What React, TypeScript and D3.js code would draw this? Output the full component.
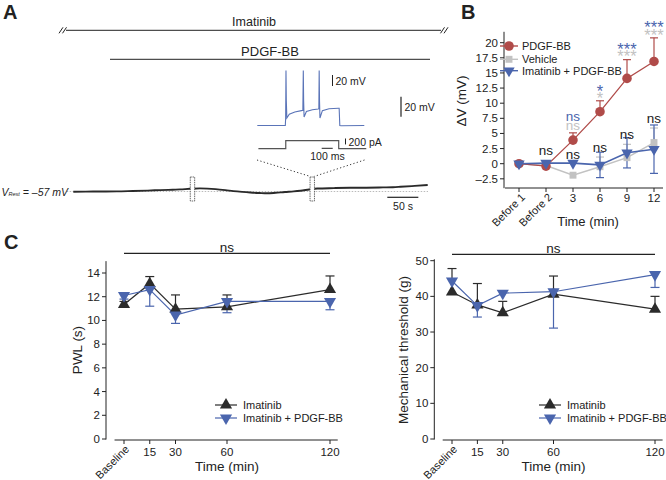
import React from "react";
import * as d3 from "d3";

const FONT = "Arial, 'Liberation Sans', Helvetica, sans-serif";
const INK = "#222";
const RED = "#b04b49";
const GREY = "#c2c2c2";
const BLUE = "#4a65ad";
const DARK = "#2b2b2b";

// ---------- Panel A: whole-cell recording ----------
const restTimeS = [0, 20, 43, 70, 96, 120, 140, 160, 172, 188, 204, 216, 229, 245, 258, 272, 285, 300, 312, 326, 341, 355, 366, 380, 393, 420, 446, 472, 499, 515, 527, 550, 571];
const restMv = [-57.2, -57.1, -57.0, -56.9, -56.5, -56.1, -55.6, -55.2, -54.9, -54.3, -53.9, -54.1, -54.6, -55.6, -56.6, -57.4, -58.0, -58.5, -58.8, -58.3, -57.5, -56.9, -56.2, -55.0, -54.0, -53.6, -53.3, -53.2, -52.9, -52.7, -52.3, -51.4, -50.5];
const restSnippetS = [192, 385];
const restingLabelMv = -57;

const insetTimeMs = [0, 254, 257, 260, 263, 268, 290, 340, 400, 413, 417, 420, 424, 445, 500, 552, 558, 561, 564, 568, 590, 650, 735, 742, 748, 760, 970];
const insetMv = [-65, -65, -52, 35, -20, -51.4, -44.5, -40.5, -38, -37.5, 35, -20, -49.5, -39.5, -36.5, -35, -34.5, 35, -20, -51.4, -38, -34.5, -33.5, -33.5, -65, -65.5, -65];
const stimTimeMs = [10, 258, 258, 738, 738, 988];
const stimPa = [0, 0, 270, 270, 0, 0];

// ---------- Panel B ----------
const bCategories = ["Before 1", "Before 2", "3", "6", "9", "12"];
const bPdgf = [0, -0.4, 3.9, 8.6, 14.1, 16.9];
const bPdgfErr = [0, 0, 1.2, 1.8, 3.1, 3.9];
const bVehicle = [0, -0.3, -1.9, -0.5, 1.0, 3.5];
const bVehicleErr = [0, 0, 0, 1.6, 2.2, 2.4];
const bImatPdgf = [0, 0.1, 0.1, -0.2, 1.8, 2.4];
const bImatPdgfErr = [0, 0, 0, 2.1, 2.5, 4.0];
const bYTicks = [-2.5, 0, 2.5, 5, 7.5, 10, 12.5, 15, 17.5, 20];
const bBlackNs = [null, 2.0, 1.45, 2.55, 4.75, 7.35];
const bBlueMark = ["", "", "ns", "*", "***", "***"];
const bBlueLevel = [0, 0, 7.65, 12.6, 19.6, 23.1];
const bGreyMark = ["", "", "ns", "*", "***", "***"];
const bGreyLevel = [0, 0, 6.1, 11.35, 18.3, 21.9];

// ---------- Panel C ----------
const cTimes = [0, 15, 30, 60, 120];
const cTickLabels = ["Baseline", "15", "30", "60", "120"];
const pwlImatinib = [11.35, 13.1, 10.95, 11.15, 12.6];
const pwlImatinibErr = [0.25, 0.6, 1.2, 1.0, 1.15];
const pwlImatPdgf = [12.1, 12.6, 10.45, 11.6, 11.6];
const pwlImatPdgfErr = [0.3, 1.4, 0.7, 0.95, 0.7];
const pwlYTicks = [0, 2, 4, 6, 8, 10, 12, 14];
const mechImatinib = [41.2, 37.6, 35.4, 40.6, 36.4];
const mechImatinibErr = [6.6, 6.0, 3.2, 5.1, 3.6];
const mechImatPdgf = [44.3, 37.4, 40.9, 41.3, 46.1];
const mechImatPdgfErr = [0, 3.2, 0, 10.2, 3.6];
const mechYTicks = [0, 10, 20, 30, 40, 50];

const circlePath = d3.symbol().type(d3.symbolCircle).size(72)() as string;
const squarePath = d3.symbol().type(d3.symbolSquare).size(48)() as string;
const triB = d3.symbol().type(d3.symbolTriangle).size(56)() as string;
const triC = d3.symbol().type(d3.symbolTriangle).size(64)() as string;

function Marker({ x, y, path, fill, down = false }: any) {
  return <path d={path} transform={`translate(${x},${y})${down ? " rotate(180)" : ""}`} fill={fill} />;
}

function ErrBar({ x, y0, y1, color, cap = 8, w = 1.2 }: any) {
  return (
    <g stroke={color} strokeWidth={w}>
      <line x1={x} x2={x} y1={y0} y2={y1} />
      <line x1={x - cap / 2} x2={x + cap / 2} y1={y1} y2={y1} />
    </g>
  );
}

function PanelA() {
  const xRest = d3.scaleLinear().domain([0, 571]).range([73.3, 427.7]);
  const yRest = d3.scaleLinear().domain([-57, -37]).range([191.5, 171.5]);
  const restLine = d3
    .line<number>()
    .x((_, i) => xRest(restTimeS[i]))
    .y((d) => yRest(d))
    .curve(d3.curveMonotoneX);
  const xIn = d3.scaleLinear().domain([0, 970]).range([257.3, 364.3]);
  const yIn = d3.scaleLinear().domain([-65, 35]).range([125.5, 70.5]);
  const yStim = d3.scaleLinear().domain([0, 270]).range([148.7, 140.7]);
  const inLine = d3.line<number>().x((_, i) => xIn(insetTimeMs[i])).y((d) => yIn(d));
  const stLine = d3.line<number>().x((_, i) => xIn(stimTimeMs[i])).y((d) => yStim(d));

  const mv20Main = yRest(-57) - yRest(-37);
  const mv20In = yIn(0) - yIn(20);
  const pa200 = yStim(0) - yStim(200);
  const ms100 = xIn(100) - xIn(0);
  const s50 = xRest(50) - xRest(0);

  const slash = (x: number, y: number) => (
    <g stroke={INK} strokeWidth={1}>
      <line x1={x} y1={y + 3} x2={x + 4} y2={y - 3} />
      <line x1={x + 3.5} y1={y + 3} x2={x + 7.5} y2={y - 3} />
    </g>
  );

  return (
    <g fontFamily={FONT} fill={INK}>
      <text x={3} y={19} fontSize={20} fontWeight="bold">A</text>
      <text x={254} y={21.5} fontSize={12.5} textAnchor="middle" dominantBaseline="central">Imatinib</text>
      <line x1={66} x2={441} y1={30.3} y2={30.3} stroke={INK} strokeWidth={1} />
      {slash(59, 30.3)}
      {slash(440.5, 30.3)}
      <text x={270} y={51.5} fontSize={13} textAnchor="middle" dominantBaseline="central">PDGF-BB</text>
      <line x1={110} x2={430} y1={59.3} y2={59.3} stroke={INK} strokeWidth={1} />

      {/* inset */}
      <path d={inLine(insetMv) as string} fill="none" stroke="#5a74b8" strokeWidth={1.1} />
      <path d={stLine(stimPa) as string} fill="none" stroke="#555" strokeWidth={1.2} />
      <line x1={332.5} x2={332.5} y1={75} y2={75 + mv20In} stroke={INK} strokeWidth={1} />
      <text x={335.5} y={80.5} fontSize={10.5} dominantBaseline="central">20 mV</text>
      <line x1={345.5} x2={345.5} y1={138.5} y2={138.5 + pa200} stroke={INK} strokeWidth={1} />
      <text x={348.5} y={141.5} fontSize={10.5} dominantBaseline="central">200 pA</text>
      <line x1={321.7} x2={321.7 + ms100} y1={148.3} y2={148.3} stroke={INK} strokeWidth={1} />
      <text x={327.5} y={156} fontSize={10.5} textAnchor="middle" dominantBaseline="central">100 ms</text>
      <line x1={401} x2={401} y1={96.7} y2={96.7 + mv20Main} stroke={INK} strokeWidth={1.2} />
      <text x={404.5} y={107} fontSize={10.5} dominantBaseline="central">20 mV</text>

      {/* zoom dotted lines */}
      <g stroke="#333" strokeWidth={1} strokeDasharray="1.2,2.3">
        <line x1={257} y1={160} x2={310.5} y2={176.5} />
        <line x1={364.5} y1={160} x2={314} y2={176.5} />
      </g>

      {/* main trace */}
      <line x1={66.7} x2={428} y1={yRest(restingLabelMv)} y2={yRest(restingLabelMv)} stroke="#aaa" strokeWidth={0.8} strokeDasharray="1.5,1.5" />
      <path d={restLine(restMv) as string} fill="none" stroke="#2a2a2a" strokeWidth={1.9} />
      {restSnippetS.map((t) => (
        <rect key={t} x={xRest(t) - 2.2} y={177} width={4.4} height={24} fill="#fff" stroke="#444" strokeWidth={0.8} strokeDasharray="1.5,0.8" />
      ))}
      <text x={1.5} y={191.5} fontSize={10.5} fontStyle="italic" dominantBaseline="central">
        V<tspan fontSize={5.5} dy={2}>Rest</tspan>
        <tspan fontSize={10.5} dy={-2}> = –57 mV</tspan>
      </text>
      <line x1={387.3} x2={387.3 + s50} y1={197.3} y2={197.3} stroke={INK} strokeWidth={1.2} />
      <text x={403} y={206} fontSize={10.5} textAnchor="middle" dominantBaseline="central">50 s</text>
    </g>
  );
}

function PanelB() {
  const x = d3.scalePoint<string>().domain(bCategories).range([519, 654]);
  const y = d3.scaleLinear().domain([0, 20]).range([163.7, 42.7]);
  const yTop = y(21.8);
  const yBot = y(-4.05);
  const axisY = 188;
  const mkLine = (vals: number[]) =>
    d3.line<number>().x((_, i) => x(bCategories[i]) as number).y((d) => y(d))(vals) as string;
  const fs = 13.5;
  const sfs = 16.5;
  const legend = [
    { label: "PDGF-BB", color: RED, path: circlePath, down: false, ly: 46 },
    { label: "Vehicle", color: GREY, path: squarePath, down: false, ly: 59.3 },
    { label: "Imatinib + PDGF-BB", color: BLUE, path: triB, down: true, ly: 70.7 },
  ];
  const markY = (lvl: number, m: string) => y(lvl) + (m === "ns" ? fs * 0.27 : sfs * 0.57);
  return (
    <g fontFamily={FONT} fill={INK}>
      <text x={461} y={19} fontSize={20} fontWeight="bold">B</text>
      {/* axes */}
      <line x1={504} x2={504} y1={yTop} y2={yBot} stroke={INK} strokeWidth={1} />
      {bYTicks.map((t) => (
        <g key={t}>
          <line x1={500} x2={504} y1={y(t)} y2={y(t)} stroke={INK} />
          <text x={498} y={y(t)} fontSize={11.5} textAnchor="end" dominantBaseline="central">
            {t < 0 ? `–${Math.abs(t)}` : t}
          </text>
        </g>
      ))}
      <line x1={505} x2={663} y1={axisY} y2={axisY} stroke={INK} strokeWidth={1} />
      {bCategories.map((c, i) => {
        const cx = x(c) as number;
        return (
          <g key={c}>
            <line x1={cx} x2={cx} y1={axisY} y2={axisY + 4} stroke={INK} />
            {i < 2 ? (
              <text transform={`translate(${cx + 4},${axisY + 7}) rotate(-45)`} fontSize={11} textAnchor="end" dominantBaseline="central">{c}</text>
            ) : (
              <text x={cx} y={axisY + 10} fontSize={11.5} textAnchor="middle" dominantBaseline="central">{c}</text>
            )}
          </g>
        );
      })}
      <text x={588} y={221} fontSize={13} textAnchor="middle" dominantBaseline="central">Time (min)</text>
      <text transform={`translate(461,101) rotate(-90)`} fontSize={13.5} textAnchor="middle" dominantBaseline="central">ΔV (mV)</text>

      {/* error bars */}
      {bVehicle.map((v, i) => bVehicleErr[i] > 0 ? (
        <ErrBar key={"ve" + i} x={x(bCategories[i])} y0={y(v)} y1={y(v + bVehicleErr[i])} color={GREY} />
      ) : null)}
      {bPdgf.map((v, i) => bPdgfErr[i] > 0 ? (
        <ErrBar key={"pe" + i} x={x(bCategories[i])} y0={y(v)} y1={y(v + bPdgfErr[i])} color={RED} />
      ) : null)}
      {bImatPdgf.map((v, i) => bImatPdgfErr[i] > 0 ? (
        <g key={"ie" + i}>
          <ErrBar x={x(bCategories[i])} y0={y(v)} y1={y(v - bImatPdgfErr[i])} color={BLUE} />
          <ErrBar x={x(bCategories[i])} y0={y(v)} y1={y(v + bImatPdgfErr[i])} color={BLUE} />
        </g>
      ) : null)}

      {/* series */}
      <path d={mkLine(bVehicle)} fill="none" stroke={GREY} strokeWidth={1.4} />
      {bVehicle.map((v, i) => <Marker key={"vm" + i} x={x(bCategories[i])} y={y(v)} path={squarePath} fill={GREY} />)}
      <path d={mkLine(bPdgf)} fill="none" stroke={RED} strokeWidth={1.3} />
      {bPdgf.map((v, i) => <Marker key={"pm" + i} x={x(bCategories[i])} y={y(v)} path={circlePath} fill={RED} />)}
      <path d={mkLine(bImatPdgf)} fill="none" stroke={BLUE} strokeWidth={1.6} />
      {bImatPdgf.map((v, i) => <Marker key={"im" + i} x={x(bCategories[i])} y={y(v)} path={triB} fill={BLUE} down />)}

      {/* significance */}
      {bBlackNs.map((v, i) => v === null ? null : (
        <text key={"ns" + i} x={x(bCategories[i])} y={y(v) + fs * 0.27} fontSize={fs} textAnchor="middle">ns</text>
      ))}
      {bGreyMark.map((m, i) => m ? (
        <text key={"gm" + i} x={x(bCategories[i])} y={markY(bGreyLevel[i], m)} fontSize={m === "ns" ? fs : sfs} textAnchor="middle" fill={GREY}>{m}</text>
      ) : null)}
      {bBlueMark.map((m, i) => m ? (
        <text key={"bm" + i} x={x(bCategories[i])} y={markY(bBlueLevel[i], m)} fontSize={m === "ns" ? fs : sfs} textAnchor="middle" fill={BLUE}>{m}</text>
      ) : null)}

      {/* legend */}
      {legend.map((l) => (
        <g key={l.label}>
          <line x1={500} x2={518} y1={l.ly} y2={l.ly} stroke={l.color} strokeWidth={1.4} />
          <Marker x={509} y={l.ly} path={l.path} fill={l.color} down={l.down} />
          <text x={522} y={l.ly} fontSize={11} dominantBaseline="central">{l.label}</text>
        </g>
      ))}
    </g>
  );
}

function PanelC({ yAxisX, xRange, yDomainTop, yRange, ticks, a, aErr, b, bErr, yLabel, yLabelX, legendX, nsY, letter }: any) {
  const x = d3.scaleLinear().domain([0, 120]).range(xRange);
  const y = d3.scaleLinear().domain([0, ticks[ticks.length - 1]]).range(yRange);
  const axisY = 440;
  const mk = (vals: number[]) =>
    d3.line<number>().x((_, i) => x(cTimes[i])).y((d) => y(d))(vals) as string;
  return (
    <g fontFamily={FONT} fill={INK}>
      {letter ? <text x={4} y={249} fontSize={20} fontWeight="bold">{letter}</text> : null}
      <line x1={yAxisX} x2={yAxisX} y1={y(yDomainTop)} y2={y(0) + 0.5} stroke={INK} />
      {ticks.map((t: number) => (
        <g key={t}>
          <line x1={yAxisX - 4} x2={yAxisX} y1={y(t)} y2={y(t)} stroke={INK} />
          <text x={yAxisX - 6} y={y(t)} fontSize={11.5} textAnchor="end" dominantBaseline="central">{t}</text>
        </g>
      ))}
      <line x1={x(-5.5)} x2={x(124.5)} y1={axisY} y2={axisY} stroke={INK} />
      {cTimes.map((t, i) => (
        <g key={t}>
          <line x1={x(t)} x2={x(t)} y1={axisY} y2={axisY + 4} stroke={INK} />
          {i === 0 ? (
            <text transform={`translate(${x(t) + 3},${axisY + 7}) rotate(-45)`} fontSize={11} textAnchor="end" dominantBaseline="central">{cTickLabels[i]}</text>
          ) : (
            <text x={x(t)} y={axisY + 12} fontSize={11.5} textAnchor="middle" dominantBaseline="central">{cTickLabels[i]}</text>
          )}
        </g>
      ))}
      <text x={(x(0) + x(120)) / 2 + 0} y={466} fontSize={13.5} textAnchor="middle" dominantBaseline="central">Time (min)</text>
      <text transform={`translate(${yLabelX},350) rotate(-90)`} fontSize={13.5} textAnchor="middle" dominantBaseline="central">{yLabel}</text>

      {/* ns bar */}
      <line x1={x(0)} x2={x(120)} y1={nsY} y2={nsY} stroke={INK} strokeWidth={1.2} />
      <text x={(x(0) + x(120)) / 2} y={nsY - 1.8} fontSize={13.5} textAnchor="middle">ns</text>

      {/* error bars */}
      {a.map((v: number, i: number) => aErr[i] > 0 ? (
        <ErrBar key={"ae" + i} x={x(cTimes[i])} y0={y(v)} y1={y(v + aErr[i])} color={DARK} cap={9} />
      ) : null)}
      {b.map((v: number, i: number) => bErr[i] > 0 ? (
        <ErrBar key={"be" + i} x={x(cTimes[i])} y0={y(v)} y1={y(v - bErr[i])} color={BLUE} cap={9} />
      ) : null)}

      <path d={mk(a)} fill="none" stroke={DARK} strokeWidth={1.2} />
      <path d={mk(b)} fill="none" stroke={BLUE} strokeWidth={1.2} />
      {a.map((v: number, i: number) => <Marker key={"am" + i} x={x(cTimes[i])} y={y(v)} path={triC} fill={DARK} />)}
      {b.map((v: number, i: number) => <Marker key={"bm" + i} x={x(cTimes[i])} y={y(v)} path={triC} fill={BLUE} down />)}

      {/* legend */}
      {[
        { label: "Imatinib", color: DARK, down: false, ly: 405 },
        { label: "Imatinib + PDGF-BB", color: BLUE, down: true, ly: 418 },
      ].map((l) => (
        <g key={l.label}>
          <line x1={legendX} x2={legendX + 22} y1={l.ly} y2={l.ly} stroke={l.color} strokeWidth={1.2} />
          <Marker x={legendX + 11} y={l.ly} path={triC} fill={l.color} down={l.down} />
          <text x={legendX + 28} y={l.ly} fontSize={11} dominantBaseline="central">{l.label}</text>
        </g>
      ))}
    </g>
  );
}

export default function App() {
  return (
    <svg width={666} height={480} viewBox="0 0 666 480" style={{ display: "block", position: "absolute", left: 0, top: 0, background: "#fff" }}>
      <rect width={666} height={480} fill="#fff" />
      <PanelA />
      <PanelB />
      <PanelC
        letter="C"
        yAxisX={106}
        xRange={[124, 330]}
        yDomainTop={15}
        yRange={[439, 273]}
        ticks={pwlYTicks}
        a={pwlImatinib}
        aErr={pwlImatinibErr}
        b={pwlImatPdgf}
        bErr={pwlImatPdgfErr}
        yLabel="PWL (s)"
        yLabelX={77}
        legendX={215}
        nsY={253.3}
      />
      <PanelC
        yAxisX={434.3}
        xRange={[452, 655]}
        yDomainTop={50.4}
        yRange={[439, 260.7]}
        ticks={mechYTicks}
        a={mechImatinib}
        aErr={mechImatinibErr}
        b={mechImatPdgf}
        bErr={mechImatPdgfErr}
        yLabel="Mechanical threshold (g)"
        yLabelX={403}
        legendX={539}
        nsY={254.3}
      />
    </svg>
  );
}
